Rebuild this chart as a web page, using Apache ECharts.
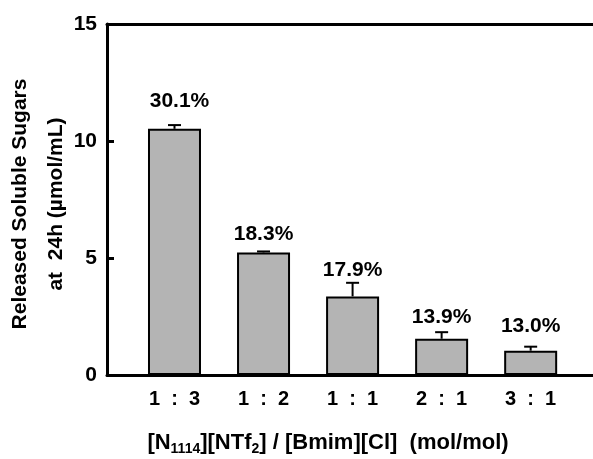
<!DOCTYPE html>
<html>
<head>
<meta charset="utf-8">
<script src="https://cdn.jsdelivr.net/npm/echarts@6/dist/echarts.min.js"></script>
<style>
  html, body { margin: 0; padding: 0; background: #fff; }
  #chart { width: 593px; height: 459px; }
</style>
</head>
<body>
<div id="chart"></div>
<script>
// Molar ratio of [N1114][NTf2] to [Bmim][Cl]
const ratios = ['1  :  3', '1  :  2', '1  :  1', '2  :  1', '3  :  1'];
// Released soluble sugars at 24 h (µmol/mL)
const sugars = [10.52, 5.24, 3.36, 1.55, 1.04];
// Standard deviation (upper error bar)
const errors = [0.16, 0.04, 0.58, 0.28, 0.17];
// Yield labels above each bar
const yields = ['30.1%', '18.3%', '17.9%', '13.9%', '13.0%'];
// Y axis ticks
const yTicks = [0, 5, 10, 15];

const FONT = '"Liberation Sans", Arial, sans-serif';
const labelGap = [17, 8, 16, 11, 14];
const idx = ratios.map((_, i) => i);

const chart = echarts.init(document.getElementById('chart'), null, { renderer: 'canvas' });

chart.setOption({
  backgroundColor: '#ffffff',
  animation: false,
  grid: { left: 107, right: 0, top: 24, bottom: 84, containLabel: false, outerBoundsMode: 'none' },
  xAxis: [
    {
      type: 'value',
      min: -0.758,
      max: 4.70,
      position: 'bottom',
      splitLine: { show: false },
      axisTick: { show: false },
      axisLine: { show: true, onZero: false, lineStyle: { color: '#000', width: 3 } },
      axisLabel: {
        customValues: idx,
        formatter: v => ratios[Math.round(v)],
        color: '#000',
        fontFamily: FONT,
        fontWeight: 'bold',
        fontSize: 20,
        margin: 14
      },
      name: '{b|[N}{s|1114}{b|][NTf}{s|2}{b|] / [Bmim][Cl]  (mol/mol)}',
      nameLocation: 'middle',
      nameMoveOverlap: false,
      nameGap: 55,
      nameTextStyle: {
        padding: [0, 44, 0, 0],
        rich: {
          b: { fontFamily: FONT, fontWeight: 'bold', fontSize: 22, color: '#000' },
          s: { fontFamily: FONT, fontWeight: 'bold', fontSize: 14, color: '#000', verticalAlign: 'bottom', padding: [12, 0, 0, 0] }
        }
      }
    },
    {
      type: 'value',
      min: -0.758,
      max: 4.70,
      position: 'top',
      splitLine: { show: false },
      axisTick: { show: false },
      axisLabel: { show: false },
      axisLine: { show: true, onZero: false, lineStyle: { color: '#000', width: 3 } }
    }
  ],
  yAxis: {
    type: 'value',
    min: 0,
    max: 15,
    interval: 5,
    splitLine: { show: false },
    axisLine: { show: true, onZero: false, lineStyle: { color: '#000', width: 3 } },
    axisTick: { show: true, inside: true, length: 7, lineStyle: { color: '#000', width: 3 } },
    axisLabel: {
      color: '#000',
      fontFamily: FONT,
      fontWeight: 'bold',
      fontSize: 21,
      margin: 10,
      formatter: v => (yTicks.indexOf(v) >= 0 ? String(v) : '')
    },
    name: 'Released Soluble Sugars\nat  24h (µmol/mL)',
    nameLocation: 'middle',
    nameRotate: 90,
    nameMoveOverlap: false,
    nameGap: 33,
    nameTextStyle: {
      color: '#000',
      fontFamily: FONT,
      fontWeight: 'bold',
      fontSize: 21,
      lineHeight: 36,
      padding: [0, 9, 0, 0]
    }
  },
  series: [
    {
      type: 'bar',
      xAxisIndex: 0,
      barWidth: 53,
      itemStyle: { color: '#b4b4b4', borderColor: '#000', borderWidth: 2 },
      data: sugars.map((v, i) => ({
        value: [i, v],
        label: {
          show: true,
          position: 'top',
          distance: labelGap[i],
          offset: i === 0 ? [5, 0] : [0, 0],
          formatter: yields[i],
          color: '#000',
          fontFamily: FONT,
          fontWeight: 'bold',
          fontSize: 21
        }
      })),
      z: 2
    },
    {
      type: 'custom',
      xAxisIndex: 0,
      data: sugars.map((v, i) => [i, v, errors[i]]),
      renderItem: (params, api) => {
        const x = api.value(0);
        const base = api.coord([x, api.value(1)]);
        const top = api.coord([x, api.value(1) + api.value(2)]);
        const half = 6.5;
        return {
          type: 'group',
          children: [
            { type: 'line', shape: { x1: base[0], y1: base[1], x2: top[0], y2: top[1] },
              style: { stroke: '#000', lineWidth: 2 } },
            { type: 'line', shape: { x1: top[0] - half, y1: top[1], x2: top[0] + half, y2: top[1] },
              style: { stroke: '#000', lineWidth: 2 } }
          ]
        };
      },
      z: 3
    }
  ]
});
</script>
</body>
</html>
